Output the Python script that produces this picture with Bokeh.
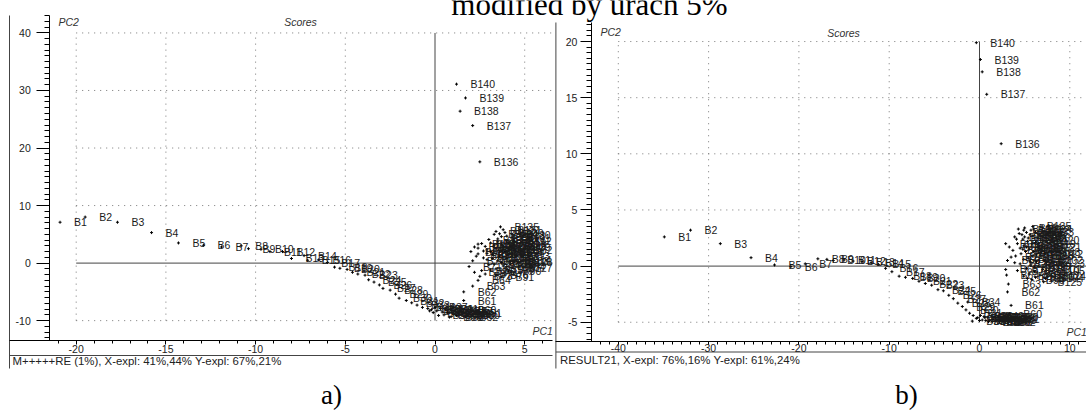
from bokeh.plotting import figure
from bokeh.models import Range1d, LinearAxis, FixedTicker, Label
from bokeh.embed import file_html
from bokeh.resources import INLINE
from bokeh.core.properties import value

# ---------------- data ----------------
names = [f"B{i}" for i in range(1, 141)]

a_pc1 = [-20.9, -19.5, -17.7, -15.8, -14.3, -12.9, -11.9, -10.8, -10.4, -9.7,
         -9.2, -8.5, -8.0, -7.3, -7.1, -6.5, -6.0, -5.6, -5.3, -4.9,
         -4.6, -4.3, -3.9, -3.7, -3.4, -3.1, -2.9, -2.5, -2.2, -2.0,
         -1.6, -1.3, -1.0, -0.7, -0.4, -0.2, 0.0, 0.1, 0.3, 0.4,
         0.6, 0.7, 0.9, 1.0, 1.1, 1.3, 1.4, 1.5, 1.6, 1.8,
         1.9, 1.7, 1.2, 0.5, -0.1, 0.2, -0.3, 0.9, 0.8, 1.6,
         1.6, 1.6, 2.1, 2.4, 2.6, 2.9, 2.3, 2.0, 2.4, 2.1,
         1.9, 2.2, 2.5, 2.8, 3.1, 3.4, 3.0, 2.7, 3.2, 2.9,
         3.3, 2.6, 3.0, 3.5, 3.8, 3.6, 3.9, 3.5, 3.8, 4.1,
         3.7, 4.2, 4.0, 4.3, 4.1, 4.4, 4.0, 3.7, 3.3, 3.9,
         4.3, 4.4, 4.2, 4.0, 3.4, 2.4, 2.8, 3.1, 3.4, 3.7,
         4.2, 4.4, 4.3, 4.4, 3.2, 2.9, 3.6, 3.9, 4.1, 3.5,
         3.1, 2.7, 2.4, 2.2, 3.3, 3.7, 4.4, 4.4, 4.3, 4.3,
         3.8, 3.4, 4.0, 3.6, 3.65, 2.5, 2.1, 1.4, 1.7, 1.2]
a_pc2 = [7.1, 8.0, 7.1, 5.3, 3.5, 3.1, 2.8, 3.0, 2.5, 2.4,
         2.0, 2.0, 0.8, 1.3, 0.5, 0.55, 0.1, -0.7, -0.9, -1.1,
         -1.6, -1.9, -2.1, -2.9, -3.3, -3.8, -4.4, -4.7, -5.4, -6.1,
         -6.5, -6.9, -7.3, -7.7, -7.9, -8.1, -7.7, -8.3, -7.9, -8.5,
         -8.0, -8.6, -8.2, -8.7, -8.3, -8.8, -8.4, -9.0, -8.6, -9.1,
         -8.7, -9.3, -9.1, -9.0, -8.6, -9.1, -8.3, -9.3, -9.4, -8.1,
         -6.5, -5.0, -4.0, -3.0, -1.3, 0.6, 1.2, 2.0, 2.6, 0.4,
         -0.6, -1.6, -2.3, -1.9, -1.2, -2.0, -0.3, 0.9, 1.5, 2.3,
         3.0, 3.4, 4.1, 3.7, 2.8, 1.9, 1.1, 0.4, -0.5, -1.4,
         -2.4, -0.2, 0.8, 1.7, 2.5, 3.2, 3.9, 4.6, 5.0, 5.3,
         4.4, 2.2, 0.3, -0.6, -1.0, 3.3, 2.9, 2.0, 2.5, 3.3,
         2.9, 3.8, 1.2, 0.5, 0.8, 1.7, 1.2, 2.0, 3.5, 4.2,
         3.5, 2.1, 1.6, 2.8, -0.2, 0.1, -0.9, 0.2, 2.8, 4.9,
         5.8, 5.5, 4.7, 5.1, 6.3, 17.6, 23.9, 26.4, 28.7, 31.1]

b_pc1 = [-34.9, -32.0, -28.7, -25.3, -22.7, -20.9, -19.3, -17.9, -16.9, -16.2,
         -15.0, -14.0, -13.0, -12.0, -11.2, -10.4, -9.7, -8.9, -8.2, -7.4,
         -6.7, -6.0, -5.3, -4.6, -4.0, -3.4, -2.9, -2.4, -1.9, -1.5,
         -1.1, -0.7, -0.35, -1.3, -0.2, 0.1, 0.3, 0.5, 0.7, 0.9,
         1.1, 1.3, 1.5, 1.7, 1.9, 2.1, 2.3, 2.5, 2.7, 2.9,
         3.0, 2.6, 2.2, 1.8, 1.4, 1.0, 0.6, 0.0, -0.8, 3.3,
         3.5, 3.1, 3.2, 3.0, 2.9, 3.1, 2.9, 3.3, 3.7, 3.9,
         4.2, 4.0, 4.6, 4.4, 4.8, 4.9, 4.5, 4.2, 4.9, 5.2,
         5.4, 5.1, 5.3, 5.6, 5.8, 5.5, 5.9, 5.7, 5.5, 5.8,
         6.1, 6.3, 6.0, 6.2, 5.9, 6.4, 6.6, 6.8, 6.5, 6.7,
         7.0, 7.2, 6.9, 7.3, 7.4, 4.7, 5.0, 5.2, 5.4, 4.9,
         4.1, 4.5, 4.8, 5.2, 4.9, 5.6, 6.1, 6.3, 6.5, 6.8,
         7.0, 7.2, 7.4, 7.5, 7.1, 6.2, 5.3, 3.9, 3.5, 4.3,
         5.0, 5.7, 6.2, 6.0, 5.9, 2.4, 0.8, 0.3, 0.1, -0.35]
b_pc2 = [2.6, 3.2, 2.0, 0.75, 0.1, -0.05, 0.2, 0.65, 0.6, 0.5,
         0.55, 0.45, 0.4, 0.3, 0.15, -0.2, -0.5, -0.9, -1.0, -1.1,
         -1.35, -1.55, -1.7, -2.1, -2.2, -2.6, -2.9, -3.3, -3.6, -3.9,
         -4.2, -4.4, -4.65, -3.2, -4.6, -4.4, -4.8, -4.5, -4.85, -4.55,
         -4.8, -4.45, -4.75, -4.5, -4.8, -4.55, -4.85, -4.6, -4.8, -4.5,
         -4.75, -4.95, -4.95, -4.9, -4.95, -4.95, -4.6, -4.85, -4.9, -4.25,
         -3.5, -2.3, -1.6, -0.8, -0.3, 0.5, 2.0, 1.7, 1.4, 2.6,
         2.0, 0.9, 1.1, 2.9, 2.4, 1.8, 0.2, -0.4, -0.9, -0.2,
         0.7, 1.3, 2.2, 2.8, 2.0, 1.5, 0.9, 0.1, -0.7, -1.2,
         -0.5, 0.4, 1.3, 2.1, 2.7, 2.5, 1.6, 0.9, 0.0, -0.8,
         -0.3, 0.5, 1.3, -1.1, -0.4, 2.8, 2.6, 3.0, 2.5, 3.2,
         2.4, 1.6, 1.5, 1.7, 0.6, 0.4, -0.1, 1.0, 2.0, 2.3,
         1.7, 1.1, 0.3, -0.9, -1.4, -1.0, -1.1, 0.3, 0.8, 3.3,
         3.4, 3.2, 3.0, 3.3, 3.53, 10.9, 15.3, 17.3, 18.4, 19.9]

a_xticks = [-20, -15, -10, -5, 0, 5]
a_yticks = [-10, 0, 10, 20, 30, 40]
b_xticks = [-40, -30, -20, -10, 0, 10]
b_yticks = [-5, 0, 5, 10, 15, 20]

title_text = "modified by urach 5%"
status_a = "M+++++RE (1%), X-expl: 41%,44%  Y-expl: 67%,21%"
status_b = "RESULT21, X-expl: 76%,16%  Y-expl: 61%,24%"

# ---------------- layout (page pixels) ----------------
W, H = 1086, 410
X0, X1, Y0, Y1 = 0, W, 0, H
CAL = {
    "a": dict(x0=434.5, sx=17.94, y0=262.6, sy=5.754),
    "b": dict(x0=979.0, sx=9.03, y0=265.6, sy=11.228),
}
PAN = {
    "a": dict(frame=9.0, top=15.0, axis_y=340.0, yaxis_x=49.3, right=552.0, sep=355.0,
              bottom=368.0, pc2=(58, 21.7), scores=(300, 21.7), pc1=(532, 330),
              status=(12, 360), letter=(331, 394), xminor=1, yminor=1,
              xtick=4, xstand=0, ytick=13, ystand=6),
    "b": dict(frame=555.4, top=22.0, axis_y=341.0, yaxis_x=590.9, right=1086.0, sep=351.5,
              bottom=368.0, pc2=(600, 31.7), scores=(843, 32), pc1=(1066, 331.7),
              status=(559.5, 359.5), letter=(906, 394), xminor=1, yminor=0.5,
              xtick=3, xstand=-1, ytick=11, ystand=3),
}
FONT = "Liberation Sans"

p = figure(width=W, height=H, x_range=Range1d(X0, X1), y_range=Range1d(Y1, Y0),
           output_backend="svg", toolbar_location=None, min_border=0,
           x_axis_type=None, y_axis_type=None)
p.outline_line_color = None
p.background_fill_color = "white"
p.border_fill_color = "white"


def vx(c, px):
    return (px - c["x0"]) / c["sx"]


def vy(c, py):
    return (c["y0"] - py) / c["sy"]


for k in ("a", "b"):
    c = CAL[k]
    p.extra_x_ranges["x" + k] = Range1d(vx(c, X0), vx(c, X1))
    p.extra_y_ranges["y" + k] = Range1d(vy(c, Y1), vy(c, Y0))


def style_axis(ax, tick_out, minor_out, standoff):
    ax.axis_line_color = "black"
    ax.axis_line_width = 1
    ax.major_tick_line_color = "black"
    ax.minor_tick_line_color = "black"
    ax.major_tick_out = tick_out
    ax.major_tick_in = 0
    ax.minor_tick_out = minor_out
    ax.minor_tick_in = 0
    ax.major_label_text_font = FONT
    ax.major_label_text_font_size = "10.5px"
    ax.major_label_text_color = "#222222"
    ax.major_label_standoff = standoff


def panel(k, xs, ys, xticks, yticks, status, letter):
    c, L = CAL[k], PAN[k]
    xr, yr = "x" + k, "y" + k
    xright = vx(c, L["right"])
    # frame lines of the window
    p.segment(x0=[L["frame"], L["frame"]], y0=[L["top"], L["sep"]],
              x1=[L["frame"], L["right"]], y1=[L["bottom"], L["sep"]],
              line_color="#444444", line_width=1)
    # dotted grid
    gx = [t for t in xticks if t != 0]
    gy = [t for t in yticks if t != 0]
    p.segment(x0=gx, y0=[min(yticks)] * len(gx), x1=gx, y1=[max(yticks)] * len(gx),
              x_range_name=xr, y_range_name=yr, line_color="#777777", line_width=1,
              line_dash="1 5")
    p.segment(x0=[min(xticks)] * len(gy), y0=gy, x1=[xright] * len(gy), y1=gy,
              x_range_name=xr, y_range_name=yr, line_color="#777777", line_width=1,
              line_dash="1 5")
    # zero lines
    p.segment(x0=[0, min(xticks)], y0=[min(yticks), 0], x1=[0, xright], y1=[max(yticks), 0],
              x_range_name=xr, y_range_name=yr, line_color="#444444", line_width=1)
    # axes
    xmin_t = [i * L["xminor"] for i in range(int(vx(c, L["yaxis_x"]) / L["xminor"]),
                                             int(xright / L["xminor"]) + 1)]
    ymin_t = [i * L["yminor"] for i in range(int(vy(c, L["axis_y"]) / L["yminor"]),
                                             int(vy(c, L["top"]) / L["yminor"]) + 1)]
    ax = LinearAxis(x_range_name=xr, fixed_location=L["axis_y"],
                    bounds=(vx(c, L["frame"]), xright),
                    ticker=FixedTicker(ticks=xticks, minor_ticks=xmin_t),
                    major_label_overrides={t: str(t) for t in xticks})
    style_axis(ax, L["xtick"], 3, L["xstand"])
    p.add_layout(ax, "below")
    ay = LinearAxis(y_range_name=yr, fixed_location=L["yaxis_x"],
                    bounds=(vy(c, L["axis_y"]), vy(c, L["top"])),
                    ticker=FixedTicker(ticks=yticks, minor_ticks=ymin_t),
                    major_label_overrides={t: str(t) for t in yticks})
    style_axis(ay, L["ytick"], 5, L["ystand"])
    p.add_layout(ay, "left")
    # samples
    p.scatter(xs, ys, marker="cross", size=3, line_color="black", line_width=1,
              x_range_name=xr, y_range_name=yr)
    p.text(xs, ys, text=names, x_range_name=xr, y_range_name=yr, x_offset=14,
           text_font=value(FONT), text_font_size="10.5px", text_color="#1a1a1a",
           text_align="left", text_baseline="middle")
    # window texts
    for txt, pos, align in (("PC2", L["pc2"], "left"), ("Scores", L["scores"], "center"),
                            ("PC1", L["pc1"], "left")):
        p.add_layout(Label(x=pos[0], y=pos[1], text=txt, text_font=FONT,
                           text_font_size="10.5px", text_font_style="italic",
                           text_color="#333333", text_align=align, text_baseline="middle"))
    p.add_layout(Label(x=L["status"][0], y=L["status"][1], text=status, text_font=FONT,
                       text_font_size="11.4px", text_color="#222222", text_align="left",
                       text_baseline="middle"))
    p.add_layout(Label(x=L["letter"][0], y=L["letter"][1], text=letter,
                       text_font="Liberation Serif", text_font_size="27px",
                       text_color="black", text_align="center", text_baseline="alphabetic"))


panel("a", a_pc1, a_pc2, a_xticks, a_yticks, status_a, "a)")
panel("b", b_pc1, b_pc2, b_xticks, b_yticks, status_b, "b)")

p.add_layout(Label(x=589, y=3.5, text=title_text, text_font="Liberation Serif",
                   text_font_size="31px", text_color="black", text_align="center",
                   text_baseline="alphabetic"))

open("out.html", "w").write(file_html(p, INLINE))
